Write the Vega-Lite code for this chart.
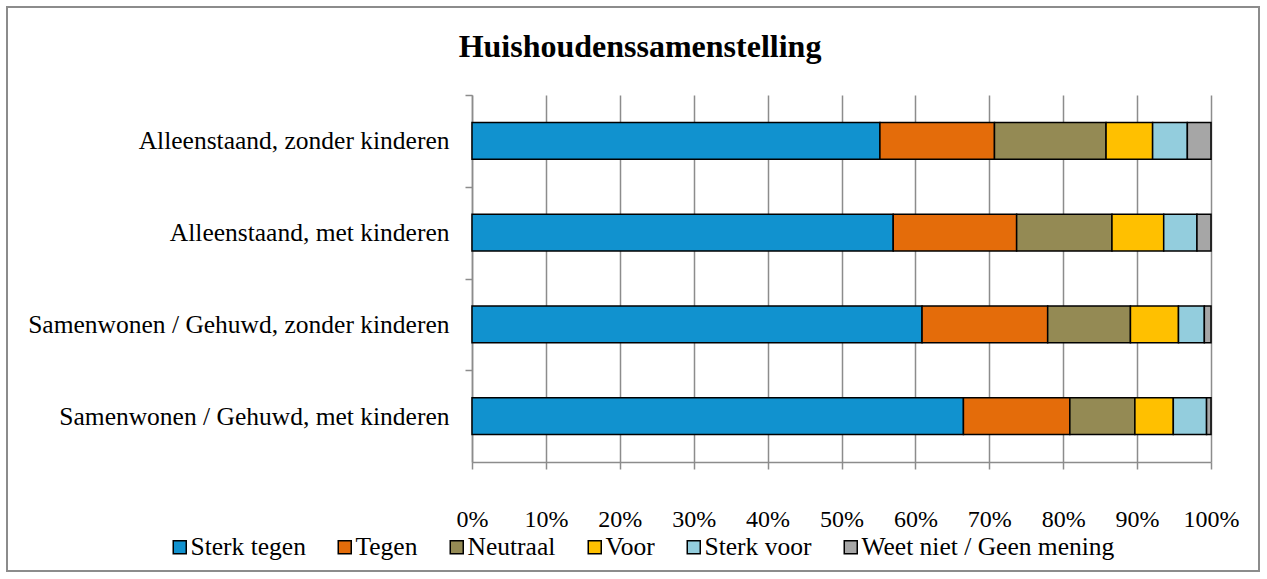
{
  "$schema": "https://vega.github.io/schema/vega-lite/v6.json",
  "autosize": {"type": "none"},
  "padding": {"left": 7, "top": 7, "right": 8, "bottom": 8},
  "width": 1252,
  "height": 564,
  "background": "white",
  "title": {
    "text": "Huishoudenssamenstelling",
    "font": "Liberation Serif",
    "fontSize": 32,
    "fontWeight": "bold",
    "color": "#000000",
    "anchor": "middle",
    "baseline": "alphabetic",
    "dx": 7,
    "dy": 86
  },
  "data": {
    "values": [
      {"groep": "Alleenstaand, zonder kinderen", "antwoord": "Sterk tegen", "volgorde": 1, "pct": 55.2},
      {"groep": "Alleenstaand, zonder kinderen", "antwoord": "Tegen", "volgorde": 2, "pct": 15.5},
      {"groep": "Alleenstaand, zonder kinderen", "antwoord": "Neutraal", "volgorde": 3, "pct": 15.1},
      {"groep": "Alleenstaand, zonder kinderen", "antwoord": "Voor", "volgorde": 4, "pct": 6.3},
      {"groep": "Alleenstaand, zonder kinderen", "antwoord": "Sterk voor", "volgorde": 5, "pct": 4.7},
      {"groep": "Alleenstaand, zonder kinderen", "antwoord": "Weet niet / Geen mening", "volgorde": 6, "pct": 3.2},
      {"groep": "Alleenstaand, met kinderen", "antwoord": "Sterk tegen", "volgorde": 1, "pct": 57.0},
      {"groep": "Alleenstaand, met kinderen", "antwoord": "Tegen", "volgorde": 2, "pct": 16.7},
      {"groep": "Alleenstaand, met kinderen", "antwoord": "Neutraal", "volgorde": 3, "pct": 12.9},
      {"groep": "Alleenstaand, met kinderen", "antwoord": "Voor", "volgorde": 4, "pct": 7.0},
      {"groep": "Alleenstaand, met kinderen", "antwoord": "Sterk voor", "volgorde": 5, "pct": 4.5},
      {"groep": "Alleenstaand, met kinderen", "antwoord": "Weet niet / Geen mening", "volgorde": 6, "pct": 1.9},
      {"groep": "Samenwonen / Gehuwd, zonder kinderen", "antwoord": "Sterk tegen", "volgorde": 1, "pct": 60.9},
      {"groep": "Samenwonen / Gehuwd, zonder kinderen", "antwoord": "Tegen", "volgorde": 2, "pct": 17.0},
      {"groep": "Samenwonen / Gehuwd, zonder kinderen", "antwoord": "Neutraal", "volgorde": 3, "pct": 11.2},
      {"groep": "Samenwonen / Gehuwd, zonder kinderen", "antwoord": "Voor", "volgorde": 4, "pct": 6.5},
      {"groep": "Samenwonen / Gehuwd, zonder kinderen", "antwoord": "Sterk voor", "volgorde": 5, "pct": 3.5},
      {"groep": "Samenwonen / Gehuwd, zonder kinderen", "antwoord": "Weet niet / Geen mening", "volgorde": 6, "pct": 0.9},
      {"groep": "Samenwonen / Gehuwd, met kinderen", "antwoord": "Sterk tegen", "volgorde": 1, "pct": 66.5},
      {"groep": "Samenwonen / Gehuwd, met kinderen", "antwoord": "Tegen", "volgorde": 2, "pct": 14.4},
      {"groep": "Samenwonen / Gehuwd, met kinderen", "antwoord": "Neutraal", "volgorde": 3, "pct": 8.8},
      {"groep": "Samenwonen / Gehuwd, met kinderen", "antwoord": "Voor", "volgorde": 4, "pct": 5.2},
      {"groep": "Samenwonen / Gehuwd, met kinderen", "antwoord": "Sterk voor", "volgorde": 5, "pct": 4.5},
      {"groep": "Samenwonen / Gehuwd, met kinderen", "antwoord": "Weet niet / Geen mening", "volgorde": 6, "pct": 0.6}
    ]
  },
  "encoding": {
    "y": {
      "field": "groep",
      "type": "nominal",
      "sort": ["Alleenstaand, zonder kinderen", "Alleenstaand, met kinderen", "Samenwonen / Gehuwd, zonder kinderen", "Samenwonen / Gehuwd, met kinderen"],
      "scale": {"range": [88, 455], "paddingInner": 0.6, "paddingOuter": 0.3},
      "axis": {
        "title": null,
        "orient": "left",
        "offset": -465,
        "grid": false,
        "tickOffset": -45.875,
        "labelOffset": 45.875,
        "domainColor": "#8c8c8c",
        "domainWidth": 1.5,
        "tickColor": "#8c8c8c",
        "tickWidth": 1.5,
        "tickSize": 7,
        "labelFont": "Liberation Serif",
        "labelFontSize": 25.5,
        "labelColor": "#000000",
        "labelPadding": 16,
        "labelLimit": 500
      }
    },
    "color": {
      "field": "antwoord",
      "type": "nominal",
      "sort": ["Sterk tegen", "Tegen", "Neutraal", "Voor", "Sterk voor", "Weet niet / Geen mening"],
      "scale": {
        "domain": ["Sterk tegen", "Tegen", "Neutraal", "Voor", "Sterk voor", "Weet niet / Geen mening"],
        "range": ["#1192CF", "#E46C0A", "#948A54", "#FFC000", "#93CDDD", "#A6A6A6"]
      },
      "legend": {
        "title": null,
        "orient": "none",
        "direction": "horizontal",
        "legendX": 160,
        "legendY": 527,
        "symbolType": "square",
        "symbolSize": 169,
        "symbolStrokeColor": "#000000",
        "symbolStrokeWidth": 1.5,
        "symbolOpacity": 1,
        "labelFont": "Liberation Serif",
        "labelFontSize": 25.5,
        "labelColor": "#000000",
        "labelOffset": -2,
        "labelLimit": 400,
        "columnPadding": 26
      }
    },
    "order": {"field": "volgorde", "type": "quantitative"}
  },
  "layer": [
    {
      "mark": {"type": "bar", "opacity": 0},
      "encoding": {
        "x": {
          "field": "pct",
          "type": "quantitative",
          "stack": "normalize",
          "scale": {"domain": [0, 1], "range": [465, 1204], "nice": false},
          "axis": {
            "title": null,
            "orient": "top",
            "offset": 0,
            "values": [0, 0.1, 0.2, 0.3, 0.4, 0.5, 0.6, 0.7, 0.8, 0.9, 1],
            "grid": true,
            "gridColor": "#8c8c8c",
            "gridWidth": 1.5,
            "gridOpacity": 1,
            "domain": false,
            "ticks": false,
            "labels": false
          }
        }
      }
    },
    {
      "mark": {"type": "bar", "stroke": "#000000", "strokeWidth": 1.5},
      "encoding": {
        "x": {
          "field": "pct",
          "type": "quantitative",
          "stack": "normalize",
          "scale": {"domain": [0, 1], "range": [465, 1204], "nice": false},
          "axis": {
            "title": null,
            "orient": "bottom",
            "offset": -109,
            "values": [0, 0.1, 0.2, 0.3, 0.4, 0.5, 0.6, 0.7, 0.8, 0.9, 1],
            "format": ".0%",
            "grid": false,
            "domainColor": "#8c8c8c",
            "domainWidth": 1.5,
            "tickColor": "#8c8c8c",
            "tickWidth": 1.5,
            "tickSize": 7,
            "labelFont": "Liberation Serif",
            "labelFontSize": 24,
            "labelColor": "#000000",
            "labelPadding": 38,
            "labelFlush": false,
            "labelOverlap": false
          }
        }
      }
    }
  ],
  "resolve": {"axis": {"x": "independent"}},
  "config": {
    "view": {"stroke": "#8c8c8c", "strokeWidth": 2}
  }
}
